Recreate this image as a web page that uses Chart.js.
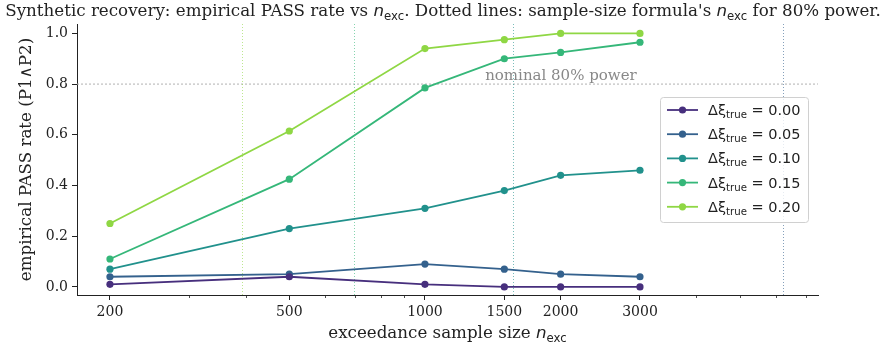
<!DOCTYPE html>
<html>
<head>
<meta charset="utf-8">
<script src="https://cdn.jsdelivr.net/npm/chart.js@4.4.1/dist/chart.umd.min.js"></script>
<style>
  html, body { margin: 0; padding: 0; background: #fff; }
</style>
</head>
<body>
<canvas id="chart" width="886" height="350"></canvas>
<script>
// data
const nExc = [200, 500, 1000, 1500, 2000, 3000];
const deltaLabels = ['0.00', '0.05', '0.10', '0.15', '0.20'];
const pass000 = [0.01, 0.04, 0.01, 0.00, 0.00, 0.00];
const pass005 = [0.04, 0.05, 0.09, 0.07, 0.05, 0.04];
const pass010 = [0.07, 0.23, 0.31, 0.38, 0.44, 0.46];
const pass015 = [0.11, 0.425, 0.785, 0.90, 0.925, 0.965];
const pass020 = [0.25, 0.615, 0.94, 0.975, 1.0, 1.0];
// sample-size formula n_exc for 80% power (none for delta = 0)
const nRequired = [null, 6220, 1565, 697, 393];
const majorTicks = [200, 500, 1000, 1500, 2000, 3000];
const minorTicks = [300, 400, 600, 700, 800, 900, 4000, 5000, 6000, 7000];
const yTicks = [0, 0.2, 0.4, 0.6, 0.8, 1.0];
const nominalPower = 0.8;

const colors = ['#472f7d', '#34618d', '#21918c', '#35b779', '#8fd744'];
const allPass = [pass000, pass005, pass010, pass015, pass020];

const SERIF = "'DejaVu Serif', serif";
const SANS = "'DejaVu Sans', sans-serif";

const datasets = allPass.map((vals, i) => ({
    label: 'Δξtrue = ' + deltaLabels[i],
    data: nExc.map((x, j) => ({ x: x, y: vals[j] })),
    borderColor: colors[i],
    backgroundColor: colors[i],
    borderWidth: 1.8,
    pointRadius: 3.6,
    pointHoverRadius: 3.6,
    pointBorderWidth: 0,
    tension: 0
}));

// text with sub-scripts, parts = [{t, f, dy}]
function richWidth(ctx, parts) {
    let w = 0;
    parts.forEach(p => { ctx.font = p.f; w += ctx.measureText(p.t).width; });
    return w;
}
function drawRich(ctx, parts, x, y) {
    parts.forEach(p => {
        ctx.font = p.f;
        ctx.fillText(p.t, x, y + (p.dy || 0));
        x += ctx.measureText(p.t).width;
    });
}

const extras = {
    id: 'extras',
    beforeDatasetsDraw(chart) {
        const ctx = chart.ctx;
        const a = chart.chartArea;
        const xs = chart.scales.x, ys = chart.scales.y;
        ctx.save();
        // nominal power line
        const y8 = ys.getPixelForValue(nominalPower);
        ctx.strokeStyle = '#b0b0b0';
        ctx.lineWidth = 1;
        ctx.setLineDash([2, 2]);
        ctx.beginPath();
        ctx.moveTo(a.left, y8);
        ctx.lineTo(a.right, y8);
        ctx.stroke();
        // formula n_exc lines
        ctx.setLineDash([1, 2]);
        nRequired.forEach((n, i) => {
            if (n == null) return;
            const px = Math.round(xs.getPixelForValue(n)) + 0.5;
            ctx.strokeStyle = colors[i];
            ctx.globalAlpha = 0.6;
            ctx.beginPath();
            ctx.moveTo(px, a.top);
            ctx.lineTo(px, a.bottom);
            ctx.stroke();
        });
        ctx.globalAlpha = 1;
        ctx.setLineDash([]);
        ctx.fillStyle = '#888';
        ctx.font = '15px ' + SERIF;
        ctx.textAlign = 'right';
        ctx.textBaseline = 'alphabetic';
        ctx.fillText('nominal 80% power', xs.getPixelForValue(2950), y8 - 4);
        ctx.restore();
    },
    afterDraw(chart) {
        const ctx = chart.ctx;
        const a = chart.chartArea;
        const xs = chart.scales.x;
        ctx.save();
        ctx.fillStyle = '#222';
        ctx.textAlign = 'left';
        ctx.textBaseline = 'alphabetic';

        // minor ticks
        ctx.strokeStyle = '#222';
        ctx.lineWidth = 0.8;
        minorTicks.forEach(v => {
            const px = Math.round(xs.getPixelForValue(v)) + 0.5;
            ctx.beginPath();
            ctx.moveTo(px, a.bottom);
            ctx.lineTo(px, a.bottom + 3);
            ctx.stroke();
        });

        // title
        const tf = '16.7px ' + SERIF;
        const nf = 'italic 16.7px ' + SANS;
        const sf = '11.7px ' + SANS;
        const title = [
            { t: 'Synthetic recovery: empirical PASS rate vs ', f: tf },
            { t: 'n', f: nf },
            { t: 'exc', f: sf, dy: 3.5 },
            { t: ". Dotted lines: sample-size formula's ", f: tf },
            { t: 'n', f: nf },
            { t: 'exc', f: sf, dy: 3.5 },
            { t: ' for 80% power.', f: tf }
        ];
        const tw = richWidth(ctx, title);
        drawRich(ctx, title, 443 - tw / 2, 16);

        // x label
        const xl = [
            { t: 'exceedance sample size ', f: tf },
            { t: 'n', f: nf },
            { t: 'exc', f: sf, dy: 3.5 }
        ];
        const xw = richWidth(ctx, xl);
        drawRich(ctx, xl, (a.left + a.right) / 2 - xw / 2, 338);

        // y label
        ctx.save();
        ctx.translate(31, (a.top + a.bottom) / 2);
        ctx.rotate(-Math.PI / 2);
        ctx.font = tf;
        ctx.textAlign = 'center';
        ctx.fillText('empirical PASS rate (P1∧P2)', 0, 0);
        ctx.restore();

        // legend
        const lx = 660.5, ly = 97.5, lw = 148, lh = 125;
        ctx.fillStyle = 'rgba(255,255,255,0.8)';
        ctx.strokeStyle = '#d0d0d0';
        ctx.lineWidth = 1;
        ctx.beginPath();
        ctx.roundRect(lx, ly, lw, lh, 3);
        ctx.fill();
        ctx.stroke();
        deltaLabels.forEach((d, i) => {
            const ry = 110 + i * 24.2;
            ctx.strokeStyle = colors[i];
            ctx.fillStyle = colors[i];
            ctx.lineWidth = 1.8;
            ctx.beginPath();
            ctx.moveTo(667, ry);
            ctx.lineTo(698, ry);
            ctx.stroke();
            ctx.beginPath();
            ctx.arc(682.5, ry, 3.6, 0, Math.PI * 2);
            ctx.fill();
            ctx.fillStyle = '#222';
            drawRich(ctx, [
                { t: 'Δξ', f: '14.5px ' + SANS },
                { t: 'true', f: '10.2px ' + SANS, dy: 3 },
                { t: ' = ' + d, f: '14.5px ' + SANS }
            ], 708, ry + 5);
        });
        ctx.restore();
    }
};

new Chart(document.getElementById('chart'), {
    type: 'line',
    data: { datasets: datasets },
    plugins: [extras],
    options: {
        responsive: false,
        animation: false,
        devicePixelRatio: 1,
        layout: { padding: { left: 0, right: 68, top: 24, bottom: 0 } },
        plugins: { legend: { display: false }, title: { display: false }, tooltip: { enabled: false } },
        scales: {
            x: {
                type: 'logarithmic',
                min: 169,
                max: 7450,
                afterBuildTicks: s => { s.ticks = majorTicks.map(v => ({ value: v })); },
                afterFit: s => { s.height = 55; },
                ticks: {
                    autoSkip: false, maxRotation: 0, padding: 4, color: '#222',
                    font: { family: SERIF, size: 14 },
                    callback: v => String(v)
                },
                grid: { drawOnChartArea: false, tickLength: 5, tickColor: '#222', tickWidth: 1 },
                border: { display: true, color: '#222', width: 1 }
            },
            y: {
                min: -0.032,
                max: 1.037,
                afterBuildTicks: s => { s.ticks = yTicks.map(v => ({ value: v })); },
                afterFit: s => { s.width = 77; },
                ticks: {
                    padding: 4, color: '#222',
                    font: { family: SERIF, size: 14 },
                    callback: v => v.toFixed(1)
                },
                grid: { drawOnChartArea: false, tickLength: 5, tickColor: '#222', tickWidth: 1 },
                border: { display: true, color: '#222', width: 1 }
            }
        }
    }
});
</script>
</body>
</html>
